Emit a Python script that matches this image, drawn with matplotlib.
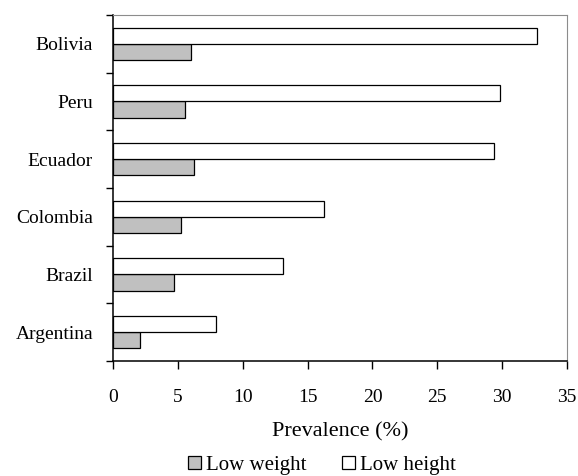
import matplotlib.pyplot as plt
import numpy as np

# --- Data ---
countries = ["Argentina", "Brazil", "Colombia", "Ecuador", "Peru", "Bolivia"]
low_weight = [2.05, 4.67, 5.22, 6.27, 5.56, 6.01]
low_height = [7.95, 13.08, 16.24, 29.38, 29.81, 32.66]

plt.rcParams['font.family'] = ['Liberation Serif', 'DejaVu Serif']

# --- Plot ---
fig = plt.figure(figsize=(5.78, 4.76), dpi=100)
ax = fig.add_axes([0.1955, 0.2416, 0.7855, 0.7269])

y = np.arange(len(countries))
bh = 0.28
ax.barh(y - bh / 2, low_weight, height=bh, color="#c0c0c0",
        edgecolor="black", linewidth=0.9, label="Low weight")
ax.barh(y + bh / 2, low_height, height=bh, color="white",
        edgecolor="black", linewidth=0.9, label="Low height")

ax.set_xlim(0, 35)
ax.set_ylim(-0.5, len(countries) - 0.5)
ax.set_xticks(np.arange(0, 36, 5))
ax.set_yticks(np.arange(-0.5, len(countries), 1))
ax.set_yticklabels([])
ax.set_yticks(y, minor=True)
ax.set_yticklabels(countries, minor=True)
ax.tick_params(axis='y', which='minor', length=0, pad=14.4, labelsize=14)
ax.tick_params(axis='y', which='major', length=5.2, width=1, direction='out')
ax.tick_params(axis='x', length=5.5, width=1, direction='out', labelsize=14, pad=15)

for s in ['top', 'right']:
    ax.spines[s].set_color("#8c8c8c")
for s in ['left', 'bottom']:
    ax.spines[s].set_linewidth(1.1)

ax.set_xlabel("Prevalence (%)", fontsize=16, labelpad=11)

fig.legend(loc='center', bbox_to_anchor=(0.557, 0.023), ncol=2, frameon=False,
           fontsize=15, handlelength=0.62, handleheight=0.62,
           handletextpad=0.25, columnspacing=1.7)

# --- Render ---
plt.savefig("out.png", dpi=100)
plt.close()
